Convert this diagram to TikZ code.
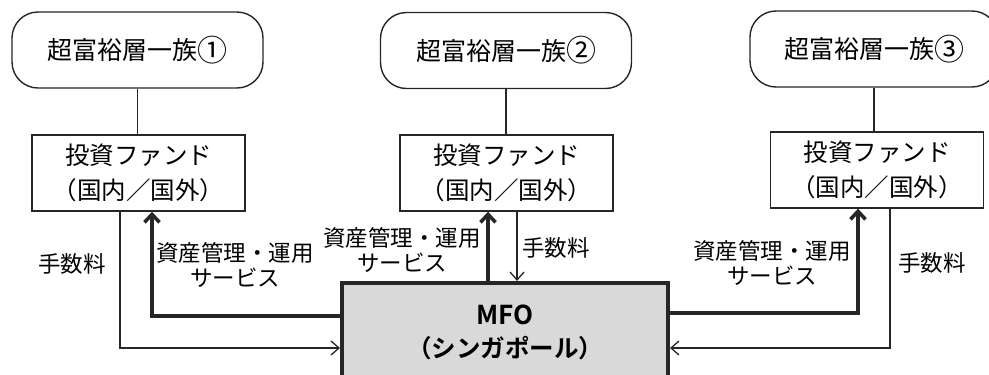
\documentclass[tikz,border=0pt]{standalone}
\usepackage{fontspec}
\setmainfont{Noto Sans CJK JP}[BoldFont={Noto Sans CJK JP Bold}]
\usetikzlibrary{arrows.meta}
\newcommand\circnum[1]{\raisebox{-0.07em}{\scalebox{1.2}{#1}}}
\begin{document}
\begin{tikzpicture}[x=1pt,y=-1pt,
  family/.style={draw=black!85, line width=1.4pt, rounded corners=26pt, minimum width=251pt, minimum height=76pt, inner sep=0pt, font=\fontsize{25}{30}\selectfont},
  fund/.style={draw=black!85, line width=1.4pt, minimum width=213pt, minimum height=76pt, inner sep=0pt, align=center, font=\fontsize{24.5}{35}\selectfont},
  mfobox/.style={draw=black!85, line width=4pt, fill=gray!30, minimum width=326pt, minimum height=98pt, inner sep=0pt, align=center, font=\bfseries\fontsize{24.5}{33}\selectfont},
  lbl/.style={inner sep=0pt, align=center, font=\fontsize{22.5}{25}\selectfont},
  link/.style={draw=black!85, line width=1.4pt},
  feearr/.style={draw=black!85, line width=1.3pt, -{Straight Barb[length=8pt,width=14pt]}},
  svcarr/.style={draw=black!85, line width=3.6pt, -{Straight Barb[length=8pt,width=15pt]}}
]
\useasboundingbox (0,0) rectangle (989,375);
\clip (0,0) rectangle (989,375);

\node[family] (fam1) at (137.5,50) {超富裕層一族\circnum{①}};
\node[family] (fam2) at (506,50.5) {超富裕層一族\circnum{②}};
\node[family, minimum width=248pt] (fam3) at (874,49) {超富裕層一族\circnum{③}};

\node[fund] (fund1) at (138.5,173) {投資ファンド\\（国内／国外）};
\node[fund] (fund2) at (506.5,173) {投資ファンド\\（国内／国外）};
\node[fund] (fund3) at (877,170) {投資ファンド\\（国内／国外）};

\node[mfobox] (mfo) at (505,332) {{\fontsize{26}{33}\selectfont MFO}\\（シンガポール）};

\draw[link] (fam1.south) -- (fam1.south |- fund1.north);
\draw[link] (fam2.south) -- (fam2.south |- fund2.north);
\draw[link] (fam3.south) -- (fam3.south |- fund3.north);

% left
\draw[svcarr] ([yshift=16pt]mfo.west) -| ([xshift=13.5pt]fund1.south);
\draw[feearr] ([xshift=-18.5pt]fund1.south) |- ([yshift=-16pt]mfo.west);
% middle
\draw[svcarr] ([xshift=-18.5pt]fund2.south |- mfo.north) -- ([xshift=-18.5pt]fund2.south);
\draw[feearr] ([xshift=10.5pt]fund2.south) -- ([xshift=10.5pt]fund2.south |- mfo.north);
% right
\draw[svcarr] ([yshift=19pt]mfo.east) -| ([xshift=-19pt]fund3.south);
\draw[feearr] ([xshift=13pt]fund3.south) |- ([yshift=-16pt]mfo.east);

\node[lbl] (fee1) at (72,264) {手数料};
\node[lbl] (svc1) at (235,265) {資産管理・運用\\サービス};
\node[lbl] (svc2) at (402,250.5) {資産管理・運用\\サービス};
\node[lbl] (fee2) at (556,248) {手数料};
\node[lbl] (svc3) at (772,263) {資産管理・運用\\サービス};
\node[lbl] (fee3) at (932,263) {手数料};
\end{tikzpicture}
\end{document}
